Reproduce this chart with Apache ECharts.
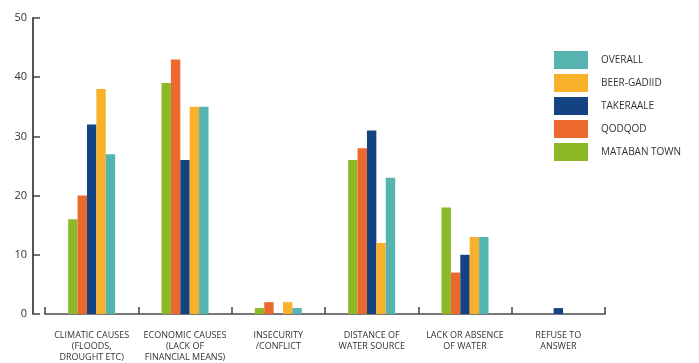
<!DOCTYPE html>
<html>
<head>
<meta charset="utf-8">
<script src="https://cdn.jsdelivr.net/npm/echarts@6/dist/echarts.min.js"></script>
<style>
  html, body { margin: 0; padding: 0; background: #fff; }
  #chart { width: 699px; height: 363px; }
</style>
</head>
<body>
<div id="chart"></div>
<script>
// Reasons given, one group of bars per reason
const categories = [
  'CLIMATIC CAUSES\n(FLOODS,\nDROUGHT ETC)',
  'ECONOMIC CAUSES\n(LACK OF\nFINANCIAL MEANS)',
  'INSECURITY\n/CONFLICT',
  'DISTANCE OF\nWATER SOURCE',
  'LACK OR ABSENCE\nOF WATER',
  'REFUSE TO\nANSWER'
];

// Share of respondents (%) per location
const matabanTown = [16, 39, 1, 26, 18, 0];
const qodqod      = [20, 43, 2, 28, 7, 0];
const takeraale   = [32, 26, 0, 31, 10, 1];
const beerGadiid  = [38, 35, 2, 12, 13, 0];
const overall     = [27, 35, 1, 23, 13, 0];

const yTicks = [0, 10, 20, 30, 40, 50];

const seriesDefs = [
  { name: 'MATABAN TOWN', data: matabanTown, color: '#8db928' },
  { name: 'QODQOD',       data: qodqod,      color: '#ec692d' },
  { name: 'TAKERAALE',    data: takeraale,   color: '#134383' },
  { name: 'BEER-GADIID',  data: beerGadiid,  color: '#f9b12b' },
  { name: 'OVERALL',      data: overall,     color: '#55b3b0' }
];

const font = '"Open Sans", sans-serif';
const chart = echarts.init(document.getElementById('chart'));

chart.setOption({
  animation: false,
  grid: { left: 45, right: 94, top: 18, bottom: 49, containLabel: false },
  legend: {
    orient: 'vertical',
    left: 554,
    top: 51,
    padding: 0,
    itemWidth: 34,
    itemHeight: 18,
    itemGap: 5,
    icon: 'rect',
    data: seriesDefs.map(s => s.name).reverse(),
    textStyle: { fontFamily: font, fontSize: 10, color: '#333', padding: [0, 0, 0, 8] }
  },
  xAxis: {
    type: 'category',
    data: categories,
    axisLine: { show: true, lineStyle: { color: '#777', width: 2 } },
    axisTick: { show: true, inside: true, length: 7, lineStyle: { color: '#444', width: 1.5 } },
    axisLabel: {
      interval: 0, margin: 16, fontFamily: font, fontSize: 9, color: '#333',
      lineHeight: 11
    }
  },
  yAxis: {
    type: 'value',
    min: yTicks[0],
    max: yTicks[yTicks.length - 1],
    interval: yTicks[1] - yTicks[0],
    offset: 12,
    splitLine: { show: false },
    axisLine: { show: true, lineStyle: { color: '#555', width: 2 } },
    axisTick: { show: true, inside: true, length: 7, lineStyle: { color: '#444', width: 1.5 } },
    axisLabel: { margin: 6, fontFamily: font, fontSize: 11, color: '#333' }
  },
  series: seriesDefs.map(s => ({
    name: s.name,
    type: 'bar',
    data: s.data,
    barWidth: 9.4,
    barGap: '0%',
    itemStyle: { color: s.color }
  }))
});
</script>
</body>
</html>
